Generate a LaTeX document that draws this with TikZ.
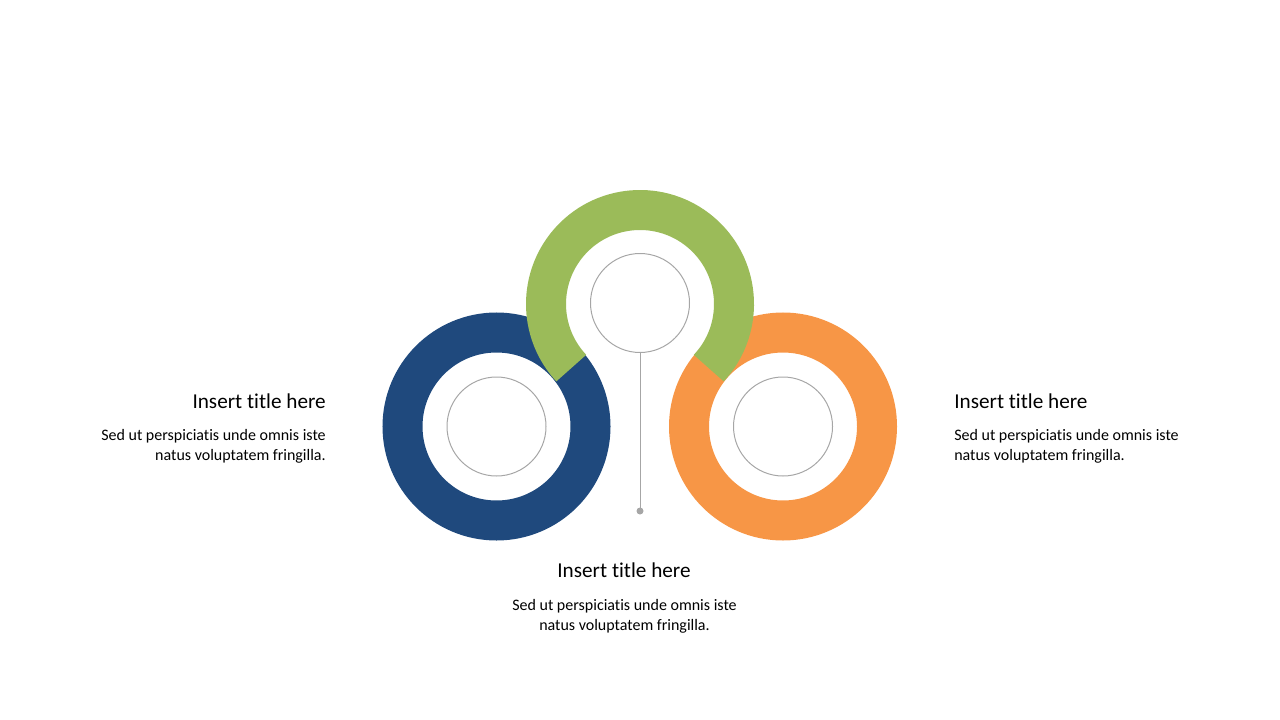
\documentclass[tikz,border=0pt]{standalone}
\usepackage{fontspec}
\setmainfont{Carlito}[Ligatures=NoCommon]
\usetikzlibrary{positioning}
\definecolor{ringblue}{HTML}{1F497D}
\definecolor{ringgreen}{HTML}{9BBB59}
\definecolor{ringorange}{HTML}{F79646}
\definecolor{hubgray}{HTML}{A6A6A6}
\begin{document}
\begin{tikzpicture}[x=0.75pt,y=0.75pt]
\tikzstyle{ring}=[line width=30pt]
\tikzstyle{hub}=[circle,draw=hubgray,line width=0.75pt,minimum size=74.25pt,inner sep=0pt]
\tikzstyle{title}=[inner sep=0pt,font=\fontsize{15.9}{19}\selectfont]
\tikzstyle{body}=[inner sep=0pt,font=\fontsize{12}{15}\selectfont]
\useasboundingbox (0,0) rectangle (1280,-720);
\draw [ringblue,ring] (496.5,-426.5) circle (94);
\draw [ringorange,ring] (783,-426.5) circle (94);
\draw [ringgreen,ring] (640,-304) ++(-43:94) arc [start angle=-43,end angle=223,radius=94];
\node [hub] (hubl) at (496.5,-426.5) {};
\node [hub] (hubc) at (640,-303) {};
\node [hub] (hubr) at (783,-426.5) {};
\coordinate (dot) at (640,-511);
\draw [hubgray,line width=0.75pt] (hubc.south) -- (dot);
\fill [hubgray] (dot) circle (3.5);
\node [title,anchor=base east] (titlel) at (326,-408) {Insert title here};
\node [body,anchor=base east,align=right] (bodyl) at (326,-460) {Sed ut perspiciatis unde omnis iste\\natus voluptatem fringilla.};
\node [title,anchor=base west] (titler) at (954,-408) {Insert title here};
\node [body,anchor=base west,align=left] (bodyr) at (954,-460) {Sed ut perspiciatis unde omnis iste\\natus voluptatem fringilla.};
\node [title,anchor=base] (titlec) at (624,-577) {Insert title here};
\node [body,anchor=base,align=center] (bodyc) at (624.5,-630) {Sed ut perspiciatis unde omnis iste\\natus voluptatem fringilla.};
\end{tikzpicture}
\end{document}
